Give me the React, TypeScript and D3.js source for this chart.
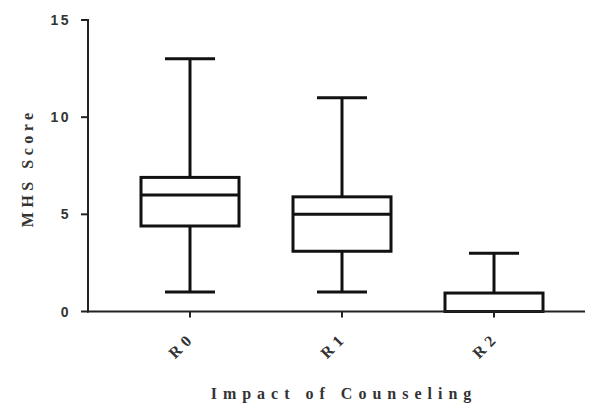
import React from "react";
import * as d3 from "d3";

// box plot summary per group
const groups = ["R0", "R1", "R2"];
const mins = [1, 1, 0];
const q1s = [4.4, 3.1, 0];
const medians = [6, 5, 0];
const q3s = [6.9, 5.9, 0.95];
const maxs = [13, 11, 3];
const yTicks = [0, 5, 10, 15];

const W = 589;
const H = 403;
const left = 88;
const right = 585;
const top = 20;
const bottom = 311.5;

export default function App() {
  const x = d3.scalePoint().domain(groups).range([190, 494]);
  const y = d3.scaleLinear().domain([0, 15]).range([bottom, top]);
  const boxW = 98;
  const capW = 50;

  return (
    <svg width={W} height={H} style={{ position: "absolute", left: 0, top: 0, background: "#fff" }}>
      {/* y axis */}
      <line x1={left} x2={left} y1={top - 1} y2={bottom + 1} stroke="#222" strokeWidth={2} />
      {yTicks.map((t) => (
        <g key={t}>
          <line x1={left - 7} x2={left} y1={y(t)} y2={y(t)} stroke="#222" strokeWidth={2} />
          <text
            x={left - 17}
            y={y(t)}
            dy="0.36em"
            textAnchor="end"
            fontFamily="Liberation Sans, Arial, sans-serif"
            fontWeight="bold"
            fontSize={14}
            letterSpacing={2.5}
            fill="#333"
          >
            {t}
          </text>
        </g>
      ))}
      <text
        transform={`translate(33,${(top + bottom) / 2 + 2}) rotate(-90)`}
        textAnchor="middle"
        fontFamily="Liberation Serif, Times New Roman, serif"
        fontWeight="bold"
        fontSize={16}
        letterSpacing={4.5}
        fill="#333"
      >
        MHS Score
      </text>

      {/* boxes */}
      {groups.map((g, i) => {
        const cx = x(g) as number;
        return (
          <g key={g} stroke="#111" strokeWidth={3} fill="none">
            <line x1={cx} x2={cx} y1={y(maxs[i])} y2={y(q3s[i])} />
            <line x1={cx} x2={cx} y1={y(q1s[i])} y2={y(mins[i])} />
            <line x1={cx - capW / 2} x2={cx + capW / 2} y1={y(maxs[i])} y2={y(maxs[i])} />
            <line x1={cx - capW / 2} x2={cx + capW / 2} y1={y(mins[i])} y2={y(mins[i])} />
            <rect x={cx - boxW / 2} y={y(q3s[i])} width={boxW} height={y(q1s[i]) - y(q3s[i])} />
            <line x1={cx - boxW / 2} x2={cx + boxW / 2} y1={y(medians[i])} y2={y(medians[i])} />
          </g>
        );
      })}

      {/* x axis */}
      <line x1={left - 1} x2={right} y1={bottom} y2={bottom} stroke="#222" strokeWidth={2} />
      {groups.map((g) => {
        const cx = x(g) as number;
        return (
          <g key={g}>
            <line x1={cx} x2={cx} y1={bottom} y2={bottom + 6} stroke="#222" strokeWidth={2} />
            <text
              transform={`translate(${cx + 6},${bottom + 27}) rotate(-45)`}
              textAnchor="end"
              fontFamily="Liberation Serif, Times New Roman, serif"
              fontWeight="bold"
              fontSize={16}
              letterSpacing={5}
              fill="#333"
            >
              {g}
            </text>
          </g>
        );
      })}
      <text
        x={344}
        y={399}
        textAnchor="middle"
        fontFamily="Liberation Serif, Times New Roman, serif"
        fontWeight="bold"
        fontSize={16}
        letterSpacing={6}
        fill="#333"
      >
        Impact of Counseling
      </text>
    </svg>
  );
}
